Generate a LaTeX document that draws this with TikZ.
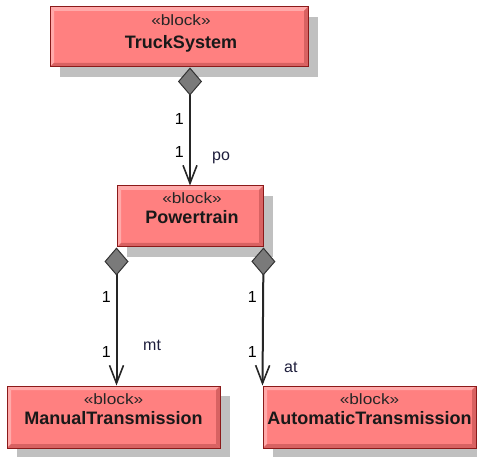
\documentclass[tikz,border=0pt]{standalone}
\usepackage{fontspec}
\setmainfont{Liberation Sans}
\usetikzlibrary{arrows.meta,shadows,calc}
\definecolor{blockfill}{HTML}{FF8080}
\definecolor{blockdark}{HTML}{D86262}
\definecolor{blocklight}{HTML}{FFAAAA}
\definecolor{blockedge}{HTML}{8B1A1A}
\definecolor{shadowgray}{HTML}{C0C0C0}
\definecolor{wire}{HTML}{262626}
\definecolor{diagray}{HTML}{7A7A7A}
\definecolor{rolecol}{HTML}{1E1E3C}
\tikzset{
  x=1pt, y=-1pt,
  blockbox/.style={rectangle, fill=blockfill, draw=blockedge, line width=1pt, inner sep=0pt,
    drop shadow={shadow xshift=10pt, shadow yshift=-10pt, fill=shadowgray, opacity=1},
    path picture={
      \coordinate (@nw) at (path picture bounding box.north west);
      \coordinate (@ne) at (path picture bounding box.north east);
      \coordinate (@sw) at (path picture bounding box.south west);
      \coordinate (@se) at (path picture bounding box.south east);
      \fill[blocklight] (@nw) -- (@ne) -- ($(@ne)+(-4pt,-4pt)$) -- ($(@nw)+(4pt,-4pt)$) -- cycle;
      \fill[blocklight] (@nw) -- (@sw) -- ($(@sw)+(4pt,4pt)$) -- ($(@nw)+(4pt,-4pt)$) -- cycle;
      \fill[blockdark] (@se) -- (@sw) -- ($(@sw)+(4pt,4pt)$) -- ($(@se)+(-4pt,4pt)$) -- cycle;
      \fill[blockdark] (@se) -- (@ne) -- ($(@ne)+(-4pt,-4pt)$) -- ($(@se)+(-4pt,4pt)$) -- cycle;
    }},
  stereo/.style={anchor=base, inner sep=0pt, font=\fontsize{15}{17}\selectfont, text=black!85},
  blockname/.style={anchor=base, inner sep=0pt, font=\bfseries\fontsize{18}{20}\selectfont, text=black!90},
  comp/.style={draw=wire, line width=2pt,
    {Diamond[length=28pt,width=24pt,fill=diagray,color=black!80,line width=1pt]}-{Straight Barb[length=18pt,width=14pt,line width=1.6pt]}},
  mult/.style={anchor=base east, inner sep=0pt, font=\fontsize{16}{18}\selectfont, text=black},
  role/.style={anchor=base west, inner sep=0pt, font=\fontsize{16}{18}\selectfont, text=rolecol},
}
\begin{document}
\begin{tikzpicture}
\useasboundingbox (0,0) rectangle (477,457);
% blocks
\node[blockbox, minimum width=258pt, minimum height=60pt] (ts) at (179,37) {};
\node[blockbox, minimum width=146pt, minimum height=61pt] (pt) at (190,216.5) {};
\node[blockbox, minimum width=213pt, minimum height=62pt] (mt) at (113.5,417) {};
\node[blockbox, minimum width=213pt, minimum height=62pt] (at) at (369.5,417) {};
% texts
\node[stereo] (ts-s) at ($(ts.north)+(2pt,-19pt)$) {\scalebox{1.15}[1]{«block»}};
\node[blockname] (ts-n) at ($(ts.north)+(2pt,-42pt)$) {TruckSystem};
\node[stereo] (pt-s) at ($(pt.north)+(2pt,-18pt)$) {\scalebox{1.15}[1]{«block»}};
\node[blockname] (pt-n) at ($(pt.north)+(2pt,-38pt)$) {Powertrain};
\node[stereo] (mt-s) at ($(mt.north)+(0pt,-19pt)$) {\scalebox{1.15}[1]{«block»}};
\node[blockname] (mt-n) at ($(mt.north)+(0pt,-39pt)$) {ManualTransmission};
\node[stereo] (at-s) at ($(at.north)+(0pt,-19pt)$) {\scalebox{1.15}[1]{«block»}};
\node[blockname] (at-n) at ($(at.north)+(0pt,-39pt)$) {AutomaticTransmission};
% connectors
\draw[comp] (ts.south -| pt.north) -- (pt.north);
\draw[comp] (pt.south west) -- (pt.south west |- mt.north);
\draw[comp] (pt.south east) -- (at.north west);
% labels
\node[mult] (m1) at (184,125) {1};
\node[mult] (m2) at (184,158) {1};
\node[role] (r1) at (212,161) {po};
\node[mult] (m3) at (111,303) {1};
\node[mult] (m4) at (111,358) {1};
\node[role] (r2) at (143,350) {mt};
\node[mult] (m5) at (257,303) {1};
\node[mult] (m6) at (257,358) {1};
\node[role] (r3) at (284,373) {at};
\end{tikzpicture}
\end{document}
